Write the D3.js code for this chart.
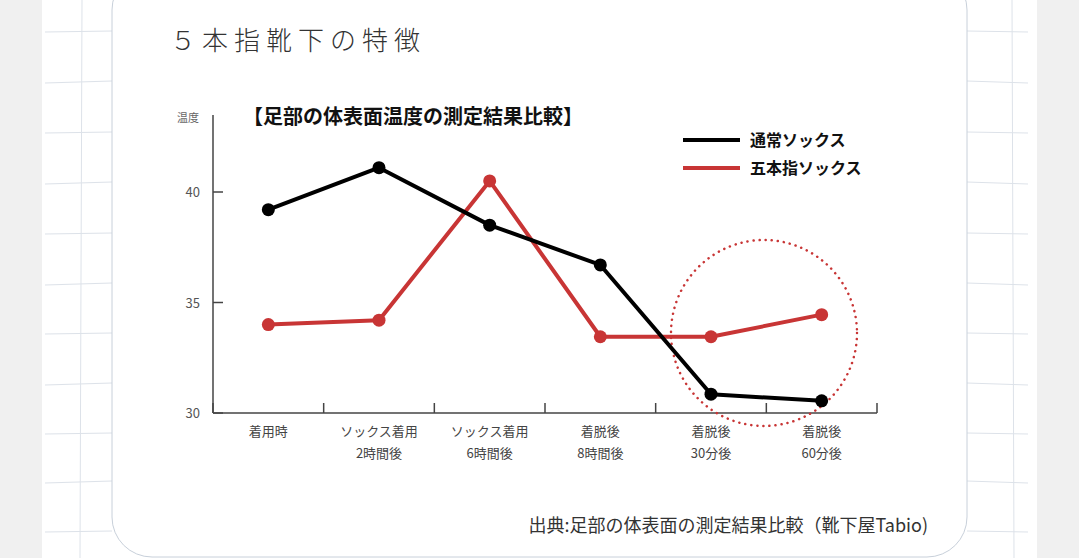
<!DOCTYPE html>
<html><head><meta charset="utf-8">
<script src="https://cdn.jsdelivr.net/npm/d3@7"></script>
<style>body{margin:0;background:#fff}svg{display:block}</style>
</head><body>
<svg id="chart" width="1079" height="558"></svg>
<script>
// chart data
const categories = [["着用時"], ["ソックス着用", "2時間後"], ["ソックス着用", "6時間後"], ["着脱後", "8時間後"], ["着脱後", "30分後"], ["着脱後", "60分後"]];
const normalSocks = [39.2, 41.1, 38.5, 36.7, 30.85, 30.55];
const fiveToeSocks = [34.0, 34.2, 40.5, 33.45, 33.45, 34.45];
const yTicks = [30, 35, 40];
const series = [
  { name: "通常ソックス", values: normalSocks, color: "#000" },
  { name: "五本指ソックス", values: fiveToeSocks, color: "#c83535" }
];

const svg = d3.select("#chart");
const font = "'Noto Sans CJK JP', sans-serif";

// page background: grey strips and faint hand-drawn grid
svg.append("rect").attr("width", 1079).attr("height", 558).attr("fill", "#fff");
svg.append("rect").attr("width", 42).attr("height", 558).attr("fill", "#f0f0f0");
svg.append("rect").attr("x", 1037).attr("width", 42).attr("height", 558).attr("fill", "#f0f0f0");
const grid = svg.append("g").attr("stroke", "#dde2e9").attr("stroke-width", 1);
[32, 82, 133, 183, 234, 284, 334, 384, 434, 482, 532].forEach((y, i) => {
  grid.append("line").attr("x1", 45).attr("x2", 112).attr("y1", y + (i % 2)).attr("y2", y - 1);
  grid.append("line").attr("x1", 967).attr("x2", 1028).attr("y1", y - 1).attr("y2", y + (i % 2));
});
[82].forEach(x => grid.append("line").attr("x1", x).attr("x2", x - 2).attr("y1", 0).attr("y2", 558));
[1012].forEach(x => grid.append("line").attr("x1", x).attr("x2", x + 2).attr("y1", 0).attr("y2", 558));

// card
svg.append("rect").attr("x", 112).attr("y", -30).attr("width", 855).attr("height", 587)
  .attr("rx", 40).attr("fill", "#fff").attr("stroke", "#c8d0da").attr("stroke-width", 1);

svg.append("text").attr("x", 170).attr("y", 50).attr("font-family", font).attr("font-size", 26)
  .attr("font-weight", 300).attr("letter-spacing", 6).attr("fill", "#333").text("５本指靴下の特徴");

// scales
const x = d3.scaleBand().domain(d3.range(categories.length)).range([213, 877]);
const y = d3.scaleLinear().domain([30, 40]).range([413, 192]);

// axes
const g = svg.append("g").attr("stroke", "#444").attr("stroke-width", 1.5);
g.append("line").attr("x1", 213).attr("x2", 213).attr("y1", 115).attr("y2", 413);
g.append("line").attr("x1", 213).attr("x2", 877).attr("y1", 413).attr("y2", 413);
d3.range(categories.length + 1).forEach(i => {
  const xp = i < categories.length ? x(i) : 877;
  g.append("line").attr("x1", xp).attr("x2", xp).attr("y1", 403).attr("y2", 413);
});
yTicks.forEach(t => {
  g.append("line").attr("x1", 213).attr("x2", 223).attr("y1", y(t)).attr("y2", y(t));
  svg.append("text").attr("x", 200).attr("y", y(t) + 5).attr("text-anchor", "end")
    .attr("font-family", font).attr("font-size", 13).attr("fill", "#555").text(t);
});
svg.append("text").attr("x", 177).attr("y", 122).attr("font-family", font).attr("font-size", 11)
  .attr("fill", "#666").text("温度");

categories.forEach((c, i) => {
  c.forEach((line, j) => {
    svg.append("text").attr("x", x(i) + x.bandwidth() / 2).attr("y", 436 + j * 22).attr("text-anchor", "middle")
      .attr("font-family", font).attr("font-size", 13).attr("fill", "#444").text(line);
  });
});

svg.append("text").attr("x", 243).attr("y", 124).attr("font-family", font).attr("font-size", 20)
  .attr("font-weight", "bold").attr("fill", "#111").text("【足部の体表面温度の測定結果比較】");

// dotted highlight circle
svg.append("circle").attr("cx", 764).attr("cy", 333).attr("r", 93).attr("fill", "none")
  .attr("stroke", "#c83535").attr("stroke-width", 2.5).attr("stroke-dasharray", "0.1 6")
  .attr("stroke-linecap", "round");

// lines
const line = d3.line().x((d, i) => x(i) + x.bandwidth() / 2).y(d => y(d));
[series[1], series[0]].forEach(s => {
  svg.append("path").attr("d", line(s.values)).attr("fill", "none").attr("stroke", s.color)
    .attr("stroke-width", 4).attr("stroke-linejoin", "round");
  svg.selectAll(null).data(s.values).join("circle")
    .attr("cx", (d, i) => x(i) + x.bandwidth() / 2).attr("cy", d => y(d)).attr("r", 6.5).attr("fill", s.color);
});

// legend
series.forEach((s, i) => {
  const ly = 140 + i * 28;
  svg.append("line").attr("x1", 683).attr("x2", 740).attr("y1", ly).attr("y2", ly)
    .attr("stroke", s.color).attr("stroke-width", 4);
  svg.append("text").attr("x", 750).attr("y", ly + 6).attr("font-family", font).attr("font-size", 16)
    .attr("font-weight", "bold").attr("fill", "#111").text(s.name);
});

svg.append("text").attr("x", 928).attr("y", 532).attr("text-anchor", "end").attr("font-family", font)
  .attr("font-size", 18).attr("fill", "#333").text("出典:足部の体表面の測定結果比較（靴下屋Tabio)");
</script>
</body></html>
